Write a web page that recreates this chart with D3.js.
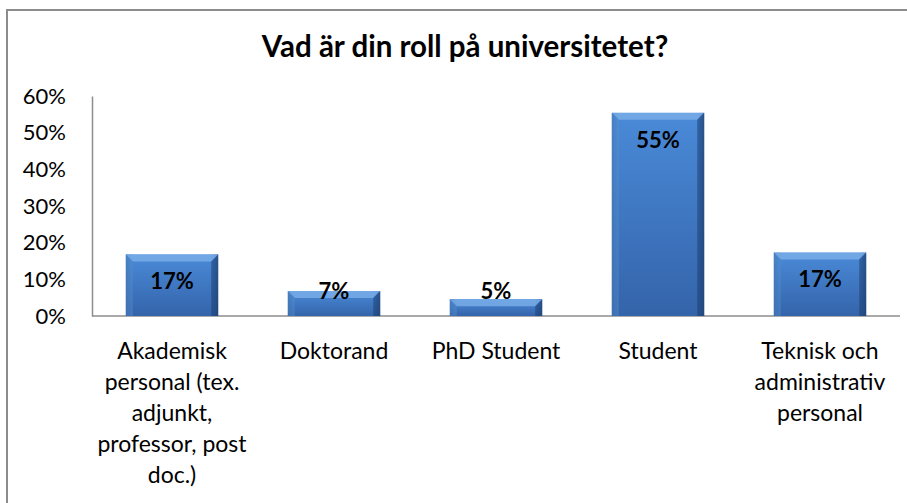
<!DOCTYPE html>
<html>
<head>
<meta charset="utf-8">
<script src="https://d3js.org/d3.v7.min.js"></script>
<style>
  body { margin: 0; background: #fff; }
  text { font-family: Lato, "Open Sans", sans-serif; }
</style>
</head>
<body>
<svg width="907" height="503"></svg>
<script>
var categories = [
  ["Akademisk", "personal (tex.", "adjunkt,", "professor, post", "doc.)"],
  ["Doktorand"],
  ["PhD Student"],
  ["Student"],
  ["Teknisk och", "administrativ", "personal"]
];
var values = [0.168, 0.068, 0.046, 0.554, 0.173];
var valueLabels = ["17%", "7%", "5%", "55%", "17%"];
var yTicks = [0, 0.1, 0.2, 0.3, 0.4, 0.5, 0.6];

var svg = d3.select("svg");

// outer frame (only left and top visible)
svg.append("path")
  .attr("d", "M7,503 L7,10 L907,10")
  .attr("fill", "none")
  .attr("stroke", "#8c8c8c")
  .attr("stroke-width", 2);

svg.append("text")
  .attr("x", 465).attr("y", 57)
  .attr("text-anchor", "middle")
  .attr("font-size", 29.5).attr("font-weight", "bold")
  .attr("fill", "#000")
  .text("Vad är din roll på universitetet?");

var x = d3.scaleBand().domain(d3.range(categories.length)).range([91, 901]).paddingInner(0.43).paddingOuter(0.215);
var y = d3.scaleLinear().domain([0, 0.6]).range([316, 96]);

// gradients
var defs = svg.append("defs");
var gv = defs.append("linearGradient").attr("id", "gv").attr("x1", 0).attr("y1", 0).attr("x2", 0).attr("y2", 1);
gv.append("stop").attr("offset", "0%").attr("stop-color", "#4a8ad8");
gv.append("stop").attr("offset", "100%").attr("stop-color", "#3464aa");
var gh = defs.append("linearGradient").attr("id", "gh").attr("x1", 0).attr("y1", 0).attr("x2", 1).attr("y2", 0);
gh.append("stop").attr("offset", "0%").attr("stop-color", "#1d3f70").attr("stop-opacity", 0.35);
gh.append("stop").attr("offset", "8%").attr("stop-color", "#1d3f70").attr("stop-opacity", 0);
gh.append("stop").attr("offset", "92%").attr("stop-color", "#1d3f70").attr("stop-opacity", 0);
gh.append("stop").attr("offset", "100%").attr("stop-color", "#1d3f70").attr("stop-opacity", 0.5);

// axes
var yAxis = d3.axisLeft(y).tickValues(yTicks).tickFormat(d3.format(".0%")).tickSize(0).tickPadding(26);
var ya = svg.append("g").attr("transform", "translate(92,0)").call(yAxis);
ya.select(".domain").attr("stroke", "#8c8c8c").attr("stroke-width", 1.5);
ya.selectAll("text").attr("font-size", 22).attr("fill", "#000").attr("font-family", "Lato, 'Open Sans', sans-serif");

svg.append("line")
  .attr("x1", 92).attr("x2", 900).attr("y1", y(0)).attr("y2", y(0))
  .attr("stroke", "#8c8c8c").attr("stroke-width", 1.5);

var bars = svg.append("g").selectAll("g").data(values).join("g");
var bw = x.bandwidth();

bars.append("rect")
  .attr("x", (d, i) => x(i)).attr("y", d => y(d))
  .attr("width", bw).attr("height", d => y(0) - y(d))
  .attr("fill", "url(#gv)");
bars.append("rect")
  .attr("x", (d, i) => x(i)).attr("y", d => y(d))
  .attr("width", bw).attr("height", d => y(0) - y(d))
  .attr("fill", "url(#gh)");
// top bevel
bars.append("path")
  .attr("d", (d, i) => {
    var x0 = x(i), x1 = x(i) + bw, t = y(d), b = 7;
    return "M" + x0 + "," + t + "L" + x1 + "," + t + "L" + (x1 - b) + "," + (t + b) + "L" + (x0 + b) + "," + (t + b) + "Z";
  })
  .attr("fill", "#7fb1ea").attr("opacity", 0.75);
// side bevels
bars.append("path")
  .attr("d", (d, i) => {
    var x0 = x(i), t = y(d), b = 7, h = y(0);
    return "M" + x0 + "," + t + "L" + (x0 + b) + "," + (t + b) + "L" + (x0 + b) + "," + h + "L" + x0 + "," + h + "Z";
  })
  .attr("fill", "#5b95d8").attr("opacity", 0.4);
bars.append("path")
  .attr("d", (d, i) => {
    var x1 = x(i) + bw, t = y(d), b = 7, h = y(0);
    return "M" + x1 + "," + t + "L" + (x1 - b) + "," + (t + b) + "L" + (x1 - b) + "," + h + "L" + x1 + "," + h + "Z";
  })
  .attr("fill", "#1a3c6c").attr("opacity", 0.45);

bars.append("text")
  .attr("x", (d, i) => x(i) + bw / 2)
  .attr("y", d => Math.min(y(d) + 27, y(0) - 25))
  .attr("dy", "0.35em")
  .attr("text-anchor", "middle")
  .attr("font-size", 22).attr("font-weight", "bold").attr("fill", "#000")
  .text((d, i) => valueLabels[i]);

// category labels
var cats = svg.append("g").selectAll("text").data(categories).join("text")
  .attr("text-anchor", "middle")
  .attr("font-size", 23).attr("fill", "#000");
cats.selectAll("tspan").data((d, i) => d.map(s => ({ s: s, i: i }))).join("tspan")
  .attr("x", d => x(d.i) + bw / 2)
  .attr("y", (d, j) => 359 + j * 31)
  .text(d => d.s);
</script>
</body>
</html>
